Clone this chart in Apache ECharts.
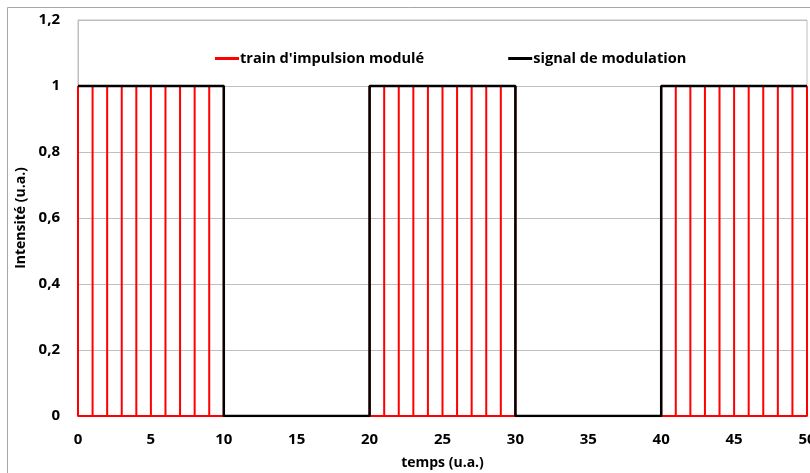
<!DOCTYPE html>
<html>
<head>
<meta charset="utf-8">
<script src="https://cdn.jsdelivr.net/npm/echarts@6/dist/echarts.min.js"></script>
<style>
  html, body { margin: 0; padding: 0; background: #fff; }
  #main { width: 810px; height: 473px; }
</style>
</head>
<body>
<div id="main"></div>
<script>
// pulse positions (temps) of the modulated train
var pulseTimes = [0, 1, 2, 3, 4, 5, 6, 7, 8, 9, 10,
                  20, 21, 22, 23, 24, 25, 26, 27, 28, 29, 30,
                  40, 41, 42, 43, 44, 45, 46, 47, 48, 49, 50];
var pulseHeight = 1;
// modulation signal corners [temps, intensité]
var modulation = [[0, 1], [10, 1], [10, 0], [20, 0], [20, 1], [30, 1], [30, 0], [40, 0], [40, 1], [50, 1]];

var pulseLine = [];
pulseTimes.forEach(function (t) {
    pulseLine.push([t, 0], [t, pulseHeight], [t, 0]);
});

var chart = echarts.init(document.getElementById('main'));
var font = '"Open Sans", "Liberation Sans", sans-serif';

option = {
    animation: false,
    textStyle: { fontFamily: font },
    graphic: [{
        type: 'rect',
        shape: { x: 7.5, y: 7.5, width: 830, height: 500 },
        style: { fill: null, stroke: '#a6a6a6', lineWidth: 1 },
        silent: true
    }],
    legend: {
        left: 210,
        top: 46,
        itemWidth: 24,
        itemHeight: 3,
        itemGap: 84,
        icon: 'rect',
        textStyle: { fontSize: 14.6, fontWeight: 'bold', color: '#000', fontFamily: font, padding: [0, 0, 0, -4] },
        data: ["train d'impulsion modulé", 'signal de modulation']
    },
    grid: {
        left: 78,
        right: 3,
        top: 20,
        bottom: 57,
        outerBoundsMode: 'none',
        containLabel: false,
        show: true,
        borderColor: '#bfbfbf',
        borderWidth: 1
    },
    xAxis: {
        type: 'value',
        min: 0,
        max: 50,
        interval: 5,
        name: 'temps (u.a.)',
        nameLocation: 'middle',
        nameGap: 40,
        nameTextStyle: { fontSize: 14, fontWeight: 'bold', color: '#000', fontFamily: font },
        axisLine: { lineStyle: { color: '#bfbfbf' } },
        axisTick: { show: false },
        splitLine: { show: false },
        axisLabel: { fontSize: 15, fontWeight: 'bold', color: '#000', margin: 16, fontFamily: font }
    },
    yAxis: {
        type: 'value',
        min: 0,
        max: 1.2,
        interval: 0.2,
        name: 'Intensité (u.a.)',
        nameLocation: 'middle',
        nameGap: 46,
        nameTextStyle: { fontSize: 14, fontWeight: 'bold', color: '#000', fontFamily: font },
        axisLine: { show: true, lineStyle: { color: '#bfbfbf' } },
        axisTick: { show: false },
        splitLine: { lineStyle: { color: '#bfbfbf' } },
        axisLabel: {
            fontSize: 15, fontWeight: 'bold', color: '#000', margin: 18, fontFamily: font,
            formatter: function (v) {
                return String(+v.toFixed(1)).replace('.', ',');
            }
        }
    },
    series: [
        {
            name: "train d'impulsion modulé",
            type: 'line',
            data: pulseLine,
            showSymbol: false,
            symbol: 'none',
            lineStyle: { color: '#ff0000', width: 2 },
            itemStyle: { color: '#ff0000' },
            z: 2
        },
        {
            name: 'signal de modulation',
            type: 'line',
            data: modulation,
            showSymbol: false,
            symbol: 'none',
            lineStyle: { color: '#000', width: 2.5 },
            itemStyle: { color: '#000' },
            z: 3
        }
    ]
};
chart.setOption(option);
</script>
</body>
</html>
